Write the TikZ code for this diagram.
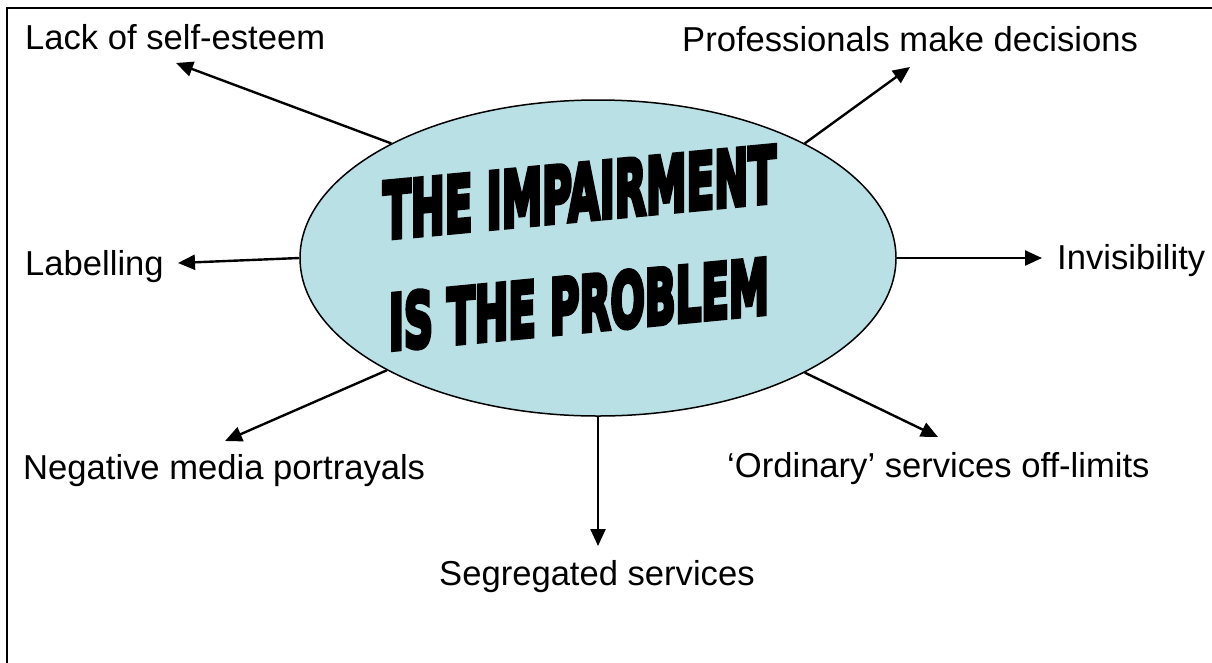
\documentclass[tikz,border=0pt]{standalone}
\usepackage{fontspec}
\setmainfont{Liberation Sans}
\newfontfamily\impactfont[BoldFeatures={FakeBold=7}]{DejaVu Sans}
\usetikzlibrary{shapes.geometric,arrows.meta}
\definecolor{ellfill}{RGB}{185,224,229}
\begin{document}
\begin{tikzpicture}[x=1pt,y=-1pt,
  lbl/.style={font=\fontsize{34.6}{40}\selectfont, inner sep=0pt, anchor=base west},
  arr/.style={line width=2.4pt, -{Triangle[length=17pt,width=15pt]}},
  big/.style={inner sep=0pt, transform shape}]
\useasboundingbox (0,0) rectangle (1212,662);
\draw[line width=2.2pt] (7,8) rectangle (1240,690);
\node[ellipse, draw, line width=1.5pt, fill=ellfill, minimum width=596pt, minimum height=316pt, inner sep=0pt] (ell) at (598,258) {};
\begin{scope}[shift={(579.5,192)}, yslant=0.094]
\node[big] (t1) at (0,0) {\resizebox{393pt}{56pt}{\impactfont\bfseries THE IMPAIRMENT}};
\end{scope}
\begin{scope}[shift={(579,304)}, yslant=0.096]
\node[big] (t2) at (0,0) {\resizebox{380pt}{56pt}{\impactfont\bfseries IS THE PROBLEM}};
\end{scope}
\node[lbl] (lack) at (25,49) {Lack of self-esteem};
\node[lbl] (prof) at (682,51) {Professionals make decisions};
\node[lbl] (lab) at (25,275) {Labelling};
\node[lbl] (inv) at (1057,269) {Invisibility};
\node[lbl] (neg) at (23,479) {Negative media portrayals};
\node[lbl] (ord) at (727,477) {‘Ordinary’ services off-limits};
\node[lbl] (seg) at (439,585) {Segregated services};
\coordinate (tLack) at (176,63);
\coordinate (tProf) at (910,67);
\coordinate (tLab) at (178,263);
\coordinate (tInv) at (1042,258);
\coordinate (tNeg) at (225,441);
\coordinate (tOrd) at (938,437);
\coordinate (tSeg) at (598,546);
\draw[arr] (ell.151) -- (tLack);
\draw[arr] (ell.29.3) -- (tProf);
\draw[arr] (ell.180) -- (tLab);
\draw[arr] (ell.0) -- (tInv);
\draw[arr] (ell.208.9) -- (tNeg);
\draw[arr] (ell.331.3) -- (tOrd);
\draw[arr] (ell.270) -- (tSeg);
\end{tikzpicture}
\end{document}
